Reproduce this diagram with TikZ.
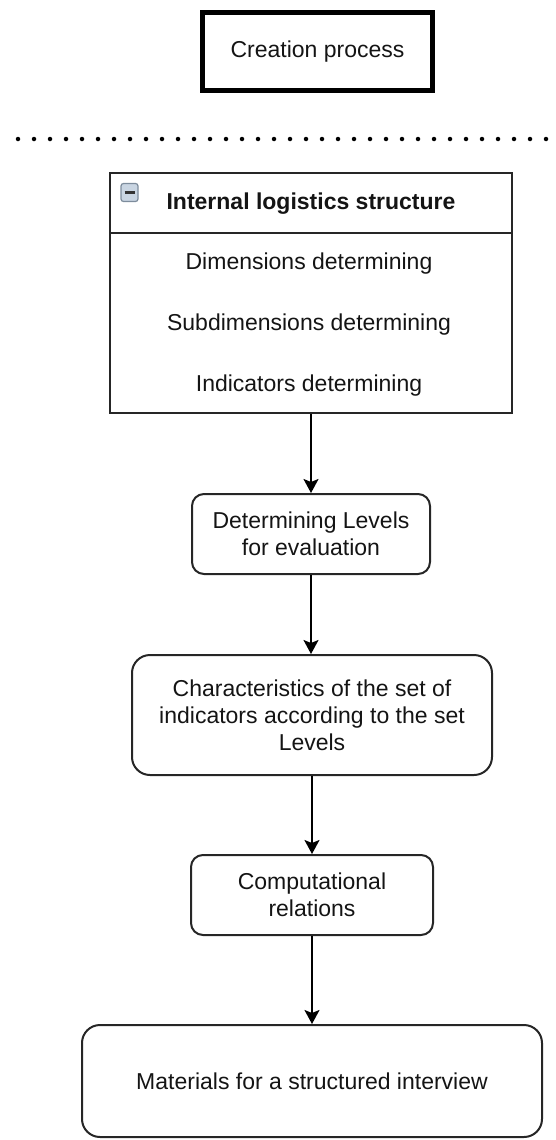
\documentclass[tikz,border=0pt]{standalone}
\usepackage{fontspec}
\setmainfont{Liberation Sans}
\usetikzlibrary{arrows.meta}
\definecolor{txt}{HTML}{141414}
\definecolor{iconfill}{HTML}{C9D5E2}
\definecolor{iconline}{HTML}{7D8C9C}
\begin{document}
\begin{tikzpicture}[x=1pt,y=-1pt,
  every node/.style={font=\fontsize{23}{27}\selectfont, text=txt, align=center, inner sep=0pt},
  titlebox/.style={draw=black, line width=5pt, minimum width=230pt, minimum height=78pt},
  listbox/.style={draw=black!85, line width=2pt, minimum width=402pt, minimum height=240pt},
  stepbox/.style={draw=black!85, line width=2pt, rounded corners=#1},
  flow/.style={draw=black, line width=2pt, -{Stealth[width=15pt,length=14pt,inset=3pt]}},
  dotline/.style={line width=4.5pt, line cap=round, dash pattern=on 0pt off 16pt}
]
\useasboundingbox (0,0) rectangle (556,1140);

% title
\node[titlebox] (creation) at (317.5,51.5) {Creation process};

% dotted separator
\coordinate (dotL) at (18,139);
\coordinate (dotR) at (556,139);
\draw[dotline] (dotL) -- (dotR);

% swimlane-like list box
\node[listbox] (internal) at (311,293) {};
\coordinate (hdrL) at (110,233);
\coordinate (hdrR) at (512,233);
\draw[draw=black!85, line width=2pt] (hdrL) -- (hdrR);
\node[draw=iconline, fill=iconfill, line width=1.2pt, rounded corners=2.5pt, minimum width=17pt, minimum height=18pt] (icon) at (129.5,192.5) {};
\draw[line width=3pt, black!80] ([xshift=-5pt]icon.center) -- ([xshift=5pt]icon.center);
\node[font=\fontsize{23}{27}\selectfont\bfseries] (hdr) at (311,204) {Internal logistics structure};
\node (dim) at (309,264) {Dimensions determining};
\node (sub) at (309,325) {Subdimensions determining};
\node (ind) at (309,386) {Indicators determining};

% flow steps
\node[stepbox=12pt, minimum width=238pt, minimum height=80pt] (det) at (311,534) {Determining Levels\\for evaluation};
\node[stepbox=18pt, minimum width=360pt, minimum height=120pt] (char) at (312,715) {Characteristics of the set of\\indicators according to the set\\Levels};
\node[stepbox=12pt, minimum width=242pt, minimum height=80pt] (comp) at (312,895) {Computational\\relations};
\node[stepbox=18pt, minimum width=460pt, minimum height=112pt] (mat) at (312,1081) {Materials for a structured interview};

% connectors
\draw[flow] (internal.south -| det.north) -- (det.north);
\draw[flow] (det.south) -- (char.north -| det.south);
\draw[flow] (char.south) -- (comp.north -| char.south);
\draw[flow] (comp.south) -- (mat.north -| comp.south);
\end{tikzpicture}
\end{document}
